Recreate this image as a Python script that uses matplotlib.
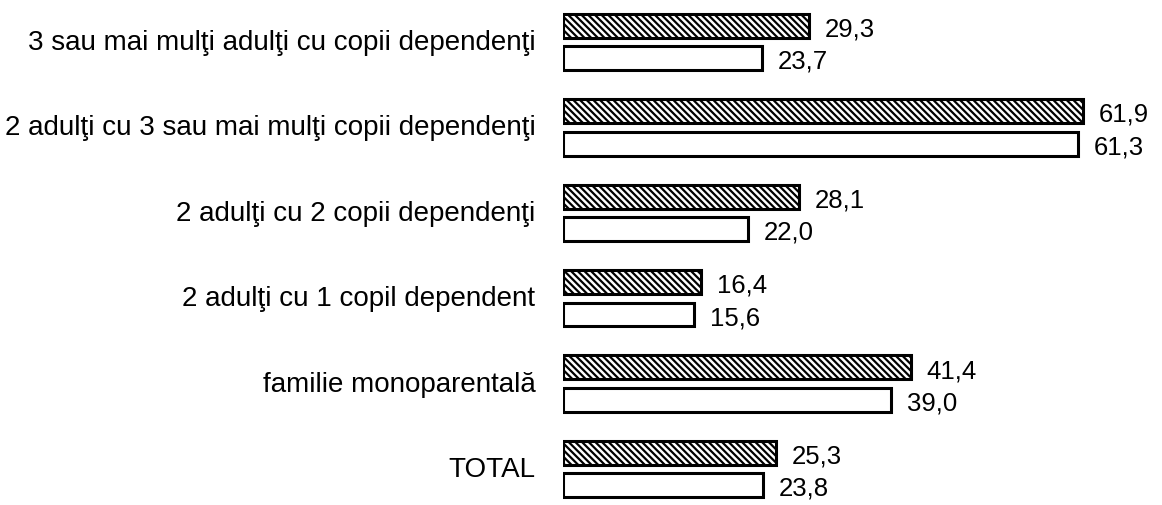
import matplotlib.pyplot as plt
import numpy as np

plt.rcParams['font.family'] = ['Liberation Sans', 'DejaVu Sans']
plt.rcParams['hatch.linewidth'] = 1.6

# date
categorii = ['3 sau mai mulţi adulţi cu copii dependenţi',
             '2 adulţi cu 3 sau mai mulţi copii dependenţi',
             '2 adulţi cu 2 copii dependenţi',
             '2 adulţi cu 1 copil dependent',
             'familie monoparentală',
             'TOTAL']
serie_hasurata = [29.3, 61.9, 28.1, 16.4, 41.4, 25.3]
serie_alba = [23.7, 61.3, 22.0, 15.6, 39.0, 23.8]

fig = plt.figure(figsize=(11.62, 5.06), dpi=100)
fig.patch.set_facecolor('white')
ax = fig.add_axes([563 / 1162, 0, 588 / 1162, 1])
ax.axis('off')

y = np.arange(len(categorii))
h = 0.28
off = 0.19

ax.barh(y - off, serie_hasurata, height=h, facecolor='white', edgecolor='black',
        linewidth=2.2, hatch='\\\\\\\\\\')
ax.barh(y + off, serie_alba, height=h, facecolor='white', edgecolor='black',
        linewidth=2.2)

for yi, v in zip(y, serie_hasurata):
    ax.text(v + 1.9, yi - off + 0.03, f'{v:.1f}'.replace('.', ','), va='center',
            ha='left', fontsize=18.5)
for yi, v in zip(y, serie_alba):
    ax.text(v + 1.9, yi + off + 0.03, f'{v:.1f}'.replace('.', ','), va='center',
            ha='left', fontsize=18.5)

for yi, c in zip(y, categorii):
    ax.text(-3.3, yi, c, va='center', ha='right', fontsize=20)

ax.set_xlim(0, 70)
ax.set_ylim(5.42, -0.503)

fig.savefig('out.png', dpi=100)
